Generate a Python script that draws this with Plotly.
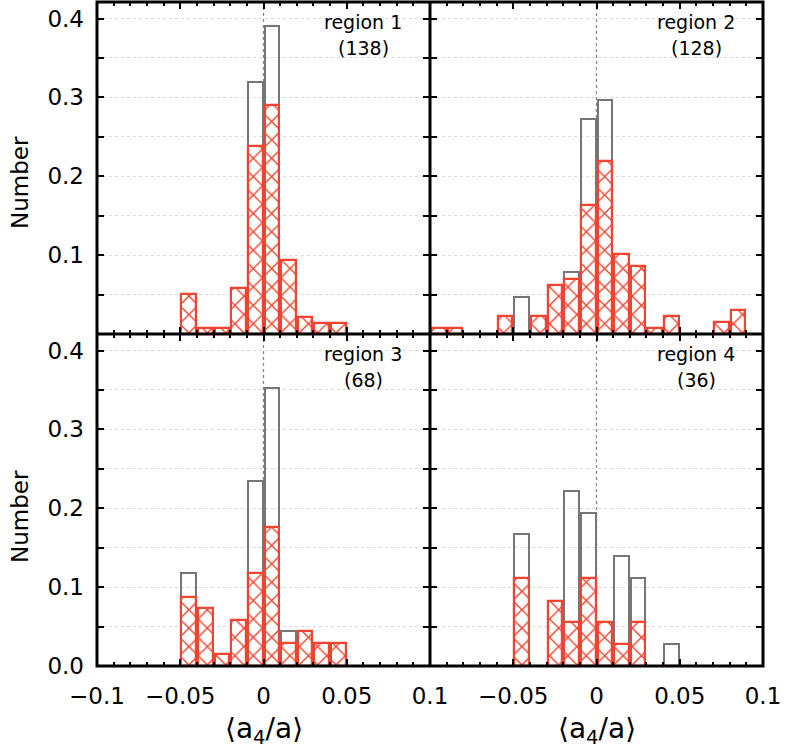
import plotly.graph_objects as go
from plotly.subplots import make_subplots

# ---------------- data ----------------
bins_1 = [-0.05, -0.04, -0.03, -0.02, -0.01, 0.0, 0.01, 0.02, 0.03, 0.04]
all_1 = [0.051, 0.007, 0.007, 0.058, 0.319, 0.391, 0.094, 0.022, 0.0145, 0.0145]
sel_1 = [0.051, 0.007, 0.007, 0.058, 0.239, 0.290, 0.094, 0.022, 0.0145, 0.0145]

bins_2 = [-0.10, -0.09, -0.06, -0.05, -0.04, -0.03, -0.02, -0.01, 0.0, 0.01, 0.02, 0.03, 0.04, 0.07, 0.08]
all_2 = [0.008, 0.008, 0.023, 0.047, 0.023, 0.0625, 0.078, 0.273, 0.297, 0.102, 0.086, 0.008, 0.023, 0.0156, 0.031]
sel_2 = [0.008, 0.008, 0.023, 0.0, 0.023, 0.0625, 0.070, 0.164, 0.219, 0.102, 0.086, 0.008, 0.023, 0.0156, 0.031]

bins_3 = [-0.05, -0.04, -0.03, -0.02, -0.01, 0.0, 0.01, 0.02, 0.03, 0.04]
all_3 = [0.118, 0.0735, 0.0147, 0.0588, 0.235, 0.353, 0.044, 0.044, 0.029, 0.029]
sel_3 = [0.088, 0.0735, 0.0147, 0.0588, 0.118, 0.176, 0.029, 0.044, 0.029, 0.029]

bins_4 = [-0.05, -0.03, -0.02, -0.01, 0.0, 0.01, 0.02, 0.04]
all_4 = [0.167, 0.083, 0.222, 0.194, 0.056, 0.139, 0.111, 0.028]
sel_4 = [0.111, 0.083, 0.056, 0.111, 0.056, 0.028, 0.056, 0.0]

region_names = ["region 1", "region 2", "region 3", "region 4"]
region_counts = ["(138)", "(128)", "(68)", "(36)"]

x_tickvals = [-0.1, -0.05, 0, 0.05, 0.1]
x_ticktext = ["\u22120.1", "\u22120.05", "0", "0.05", "0.1"]
y_tickvals = [0, 0.1, 0.2, 0.3, 0.4]
y_ticktext = ["0.0", "0.1", "0.2", "0.3", "0.4"]

# ---------------- style ----------------
FONT = "DejaVu Sans"
RED = "#ee4430"
GRAY = "#767676"
BAR_W = 0.0088
BAR_OFF = 0.0006

fig = make_subplots(rows=2, cols=2, horizontal_spacing=0, vertical_spacing=0)

panels = [
    (1, 1, bins_1, all_1, sel_1),
    (1, 2, bins_2, all_2, sel_2),
    (2, 1, bins_3, all_3, sel_3),
    (2, 2, bins_4, all_4, sel_4),
]

for i, (r, c, b, a, s) in enumerate(panels):
    fig.add_trace(go.Bar(
        x=b, y=a, width=BAR_W, offset=BAR_OFF,
        marker=dict(color="rgba(0,0,0,0)", line=dict(color=GRAY, width=2)),
        showlegend=False, hoverinfo="skip"), row=r, col=c)
    fig.add_trace(go.Bar(
        x=b, y=s, width=BAR_W, offset=BAR_OFF,
        marker=dict(color=RED, line=dict(color=RED, width=2.2),
                    pattern=dict(shape="x", fillmode="replace", fgcolor=RED,
                                 bgcolor="white", size=13, solidity=0.2)),
        showlegend=False, hoverinfo="skip"), row=r, col=c)

    xref = "x" if i == 0 else f"x{i+1}"
    yref = "y" if i == 0 else f"y{i+1}"
    # dotted zero line
    fig.add_shape(type="line", xref=xref, yref=f"{yref} domain", x0=0, x1=0, y0=0, y1=1,
                  line=dict(color="#888888", width=1.3, dash="dot"), layer="below")
    fig.add_annotation(xref=xref, yref=yref, x=0.06, y=0.3953, text=region_names[i],
                       showarrow=False, font=dict(family=FONT, size=19, color="black"),
                       xanchor="center", yanchor="middle")
    fig.add_annotation(xref=xref, yref=yref, x=0.06, y=0.3623, text=region_counts[i],
                       showarrow=False, font=dict(family=FONT, size=19, color="black"),
                       xanchor="center", yanchor="middle")

for r in (1, 2):
    for c in (1, 2):
        show_x = (r == 2)
        if c == 1:
            tv, tt = x_tickvals, x_ticktext
        else:
            tv, tt = x_tickvals[1:], x_ticktext[1:]
        fig.update_xaxes(
            row=r, col=c, range=[-0.1, 0.1], tickmode="array", tickvals=tv, ticktext=tt,
            showticklabels=show_x, ticks="inside", ticklen=7, tickwidth=2, tickcolor="black",
            minor=dict(tick0=0, dtick=0.01, ticks="inside", ticklen=4, tickwidth=1.5,
                       tickcolor="black", showgrid=False),
            mirror="ticks", showline=False, showgrid=False, zeroline=False, automargin=False,
            tickfont=dict(family=FONT, size=23, color="black"), ticklabelstandoff=14)
        if c == 1 and r == 2:
            ytv, ytt = y_tickvals, y_ticktext
        else:
            ytv, ytt = y_tickvals[1:], y_ticktext[1:]
        fig.update_yaxes(
            row=r, col=c, range=[0, 0.421], tickmode="array", tickvals=ytv, ticktext=ytt,
            showticklabels=(c == 1), ticks="inside", ticklen=7, tickwidth=2, tickcolor="black",
            minor=dict(tick0=0, dtick=0.05, ticks="inside", ticklen=7, tickwidth=2,
                       tickcolor="black", showgrid=True, gridcolor="#dadada",
                       griddash="dot", gridwidth=1),
            mirror="ticks", showline=False, showgrid=True, gridcolor="#dadada", griddash="dot",
            gridwidth=1, zeroline=False, automargin=False,
            tickfont=dict(family=FONT, size=23, color="black"), ticklabelstandoff=12)

# frame
fig.add_shape(type="rect", xref="paper", yref="paper", x0=0, x1=1, y0=0, y1=1,
              line=dict(color="black", width=3), layer="above")
fig.add_shape(type="line", xref="paper", yref="paper", x0=0.5, x1=0.5, y0=0, y1=1,
              line=dict(color="black", width=3), layer="above")
fig.add_shape(type="line", xref="paper", yref="paper", x0=0, x1=1, y0=0.5, y1=0.5,
              line=dict(color="black", width=3), layer="above")

# axis titles
for yp in (0.7274, 0.2244):
    fig.add_annotation(xref="paper", yref="paper", x=-0.1156, y=yp, text="Number",
                       textangle=-90, showarrow=False,
                       font=dict(family=FONT, size=23, color="black"),
                       xanchor="center", yanchor="middle")
for xp in (0.25, 0.75):
    fig.add_annotation(xref="paper", yref="paper", x=xp, y=-0.0964,
                       text="\u27e8a<sub>4</sub>/a\u27e9", showarrow=False,
                       font=dict(family=FONT, size=28, color="black"),
                       xanchor="center", yanchor="middle")

fig.update_layout(
    width=789, height=749, barmode="overlay", bargap=0,
    margin=dict(l=97, r=26, t=2, b=83, autoexpand=False),
    plot_bgcolor="white", paper_bgcolor="white",
    font=dict(family=FONT, color="black"),
)

fig.write_html("out.html", config={"displayModeBar": False},
               post_script="document.body.style.margin='0px';")
